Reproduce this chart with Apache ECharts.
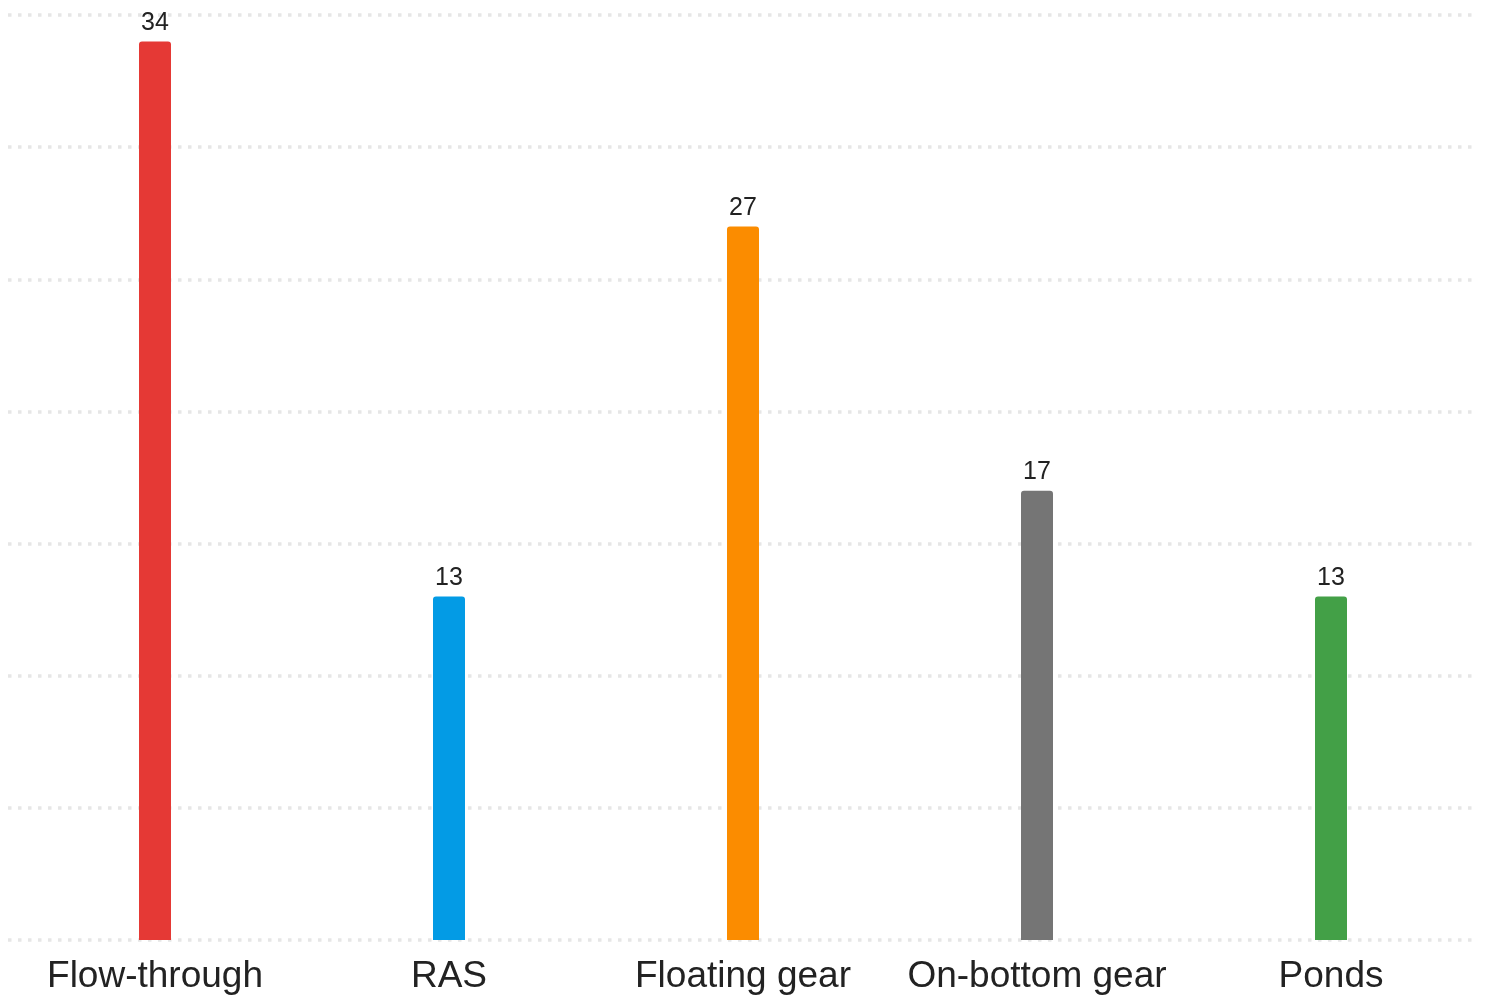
<!DOCTYPE html>
<html><head><meta charset="utf-8">
<script src="https://cdn.jsdelivr.net/npm/echarts@6/dist/echarts.min.js"></script>
<style>html,body{margin:0;padding:0;background:#fff}#c{width:1489px;height:996px}</style>
</head><body><div id="c"></div>
<script>
const categories = ["Flow-through", "RAS", "Floating gear", "On-bottom gear", "Ponds"];
const values = [34, 13, 27, 17, 13];
const colors = ["#E53935", "#039BE5", "#FB8C00", "#757575", "#43A047"];
const chart = echarts.init(document.getElementById('c'));
chart.setOption({
  animation: false,
  grid: {left: 8, right: 11, top: 15, bottom: 56, containLabel: false},
  xAxis: {
    type: 'category', data: categories,
    axisLine: {show: false}, axisTick: {show: false},
    axisLabel: {interval: 0, fontSize: 37, color: '#222', fontFamily: 'Liberation Sans, Arial, sans-serif', margin: 18}
  },
  yAxis: {
    type: 'value', min: 0, max: 35, interval: 5,
    axisLabel: {show: false}, axisLine: {show: false}, axisTick: {show: false},
    splitLine: {show: true, lineStyle: {color: '#e6e6e6', width: 3.5, type: [3.5, 6.5]}}
  },
  series: [{
    type: 'bar', barWidth: 32,
    data: values.map((v, i) => ({value: v, itemStyle: {color: colors[i]}})),
    itemStyle: {borderRadius: [3, 3, 0, 0]},
    label: {show: true, position: 'top', distance: 6, fontSize: 25, color: '#222', fontFamily: 'Liberation Sans, Arial, sans-serif'}
  }]
});
</script></body></html>
